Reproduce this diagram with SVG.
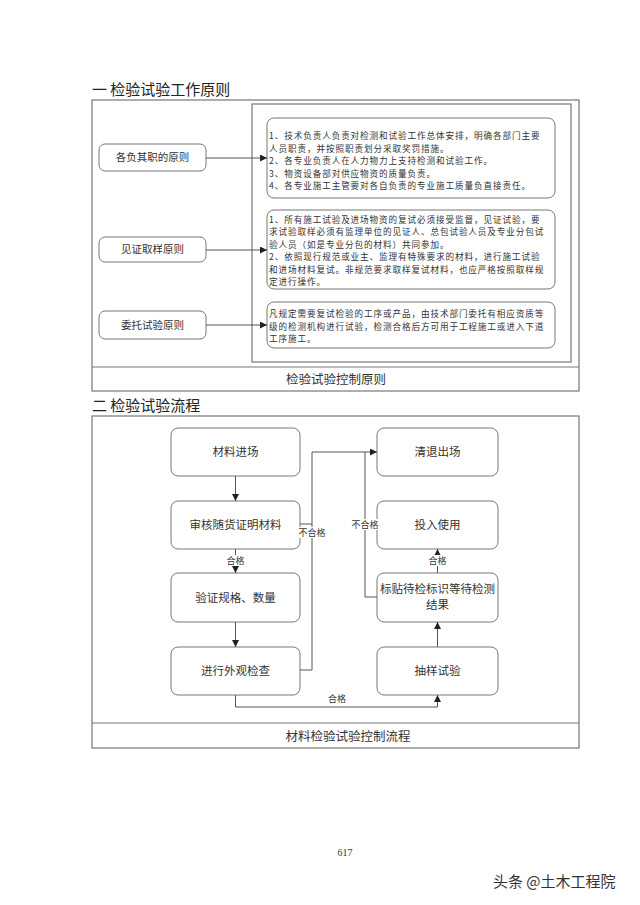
<svg xmlns="http://www.w3.org/2000/svg" width="640" height="905" viewBox="0 0 640 905">
<style>
.t{font-family:"Noto Sans CJK SC","Noto Sans",sans-serif;fill:#333}
.h{font-size:15px;fill:#222}
.s{font-size:8.6px;letter-spacing:0.9px}
.n{font-size:10.5px;text-anchor:middle}
.f{font-size:11.5px;text-anchor:middle}
.l{font-size:9px;text-anchor:middle}
.frame{fill:none;stroke:#777;stroke-width:1.2}
.box{fill:#fff;stroke:#777;stroke-width:1}
.c{fill:none;stroke:#555;stroke-width:1}
</style>
<defs>
<marker id="a" viewBox="0 0 10 10" refX="10" refY="5" markerWidth="7" markerHeight="7" markerUnits="userSpaceOnUse" orient="auto"><path d="M0,0L10,5L0,10z" fill="#222"/></marker>
</defs>
<rect width="640" height="905" fill="#fff"/>

<text class="t h" x="92" y="95">一 检验试验工作原则</text>
<rect class="frame" x="92" y="100" width="487" height="291"/>
<line class="frame" x1="92" y1="367" x2="579" y2="367"/>
<rect class="frame" x="252" y="104" width="319" height="258"/>
<text class="t f" x="336" y="384" style="font-size:12.5px">检验试验控制原则</text>

<g id="p1"><rect class="box" x="99" y="144" width="107" height="27" rx="6"/><text class="t n" x="152.5" y="161">各负其职的原则</text></g>
<g id="p2"><rect class="box" x="99" y="237" width="107" height="25" rx="6"/><text class="t n" x="152.5" y="253">见证取样原则</text></g>
<g id="p3"><rect class="box" x="99" y="311" width="107" height="28" rx="6"/><text class="t n" x="152.5" y="329">委托试验原则</text></g>

<g id="d1"><rect class="box" x="267" y="118" width="288" height="80" rx="7"/>
<text class="t s"><tspan x="269" y="139">1、技术负责人负责对检测和试验工作总体安排，明确各部门主要</tspan><tspan x="269" y="151.5">人员职责，并按照职责划分采取奖罚措施。</tspan><tspan x="269" y="164">2、各专业负责人在人力物力上支持检测和试验工作。</tspan><tspan x="269" y="176.5">3、物资设备部对供应物资的质量负责。</tspan><tspan x="269" y="189">4、各专业施工主管要对各自负责的专业施工质量负直接责任。</tspan></text></g>
<g id="d2"><rect class="box" x="267" y="210" width="288" height="79" rx="7"/>
<text class="t s"><tspan x="269" y="222.5">1、所有施工试验及进场物资的复试必须接受监督，见证试验，要</tspan><tspan x="269" y="235">求试验取样必须有监理单位的见证人、总包试验人员及专业分包试</tspan><tspan x="269" y="247.5">验人员（如是专业分包的材料）共同参加。</tspan><tspan x="269" y="260">2、依照现行规范或业主、监理有特殊要求的材料，进行施工试验</tspan><tspan x="269" y="272.5">和进场材料复试。非规范要求取样复试材料，也应严格按照取样规</tspan><tspan x="269" y="285">定进行操作。</tspan></text></g>
<g id="d3"><rect class="box" x="267" y="302" width="288" height="46" rx="7"/>
<text class="t s"><tspan x="269" y="317">凡规定需要复试检验的工序或产品，由技术部门委托有相应资质等</tspan><tspan x="269" y="329.5">级的检测机构进行试验，检测合格后方可用于工程施工或进入下道</tspan><tspan x="269" y="342">工序施工。</tspan></text></g>

<g id="c1">
<line class="c" x1="206" y1="158" x2="267" y2="158" marker-end="url(#a)"/>
<line class="c" x1="206" y1="250" x2="267" y2="250" marker-end="url(#a)"/>
<line class="c" x1="206" y1="325" x2="267" y2="325" marker-end="url(#a)"/>
</g>

<text class="t h" x="92" y="411">二 检验试验流程</text>
<rect class="frame" x="92" y="416" width="487" height="332"/>
<line class="frame" x1="92" y1="723" x2="579" y2="723"/>
<text class="t f" x="348" y="741" style="font-size:12.5px">材料检验试验控制流程</text>

<g id="f1"><rect class="box" x="171" y="428" width="129" height="48" rx="7"/><text class="t f" x="235.5" y="456">材料进场</text></g>
<g id="f2"><rect class="box" x="171" y="501" width="129" height="48" rx="7"/><text class="t f" x="235.5" y="529">审核随货证明材料</text></g>
<g id="f3"><rect class="box" x="171" y="573" width="129" height="49" rx="7"/><text class="t f" x="235.5" y="602">验证规格、数量</text></g>
<g id="f4"><rect class="box" x="171" y="647" width="129" height="48" rx="7"/><text class="t f" x="235.5" y="675">进行外观检查</text></g>
<g id="f5"><rect class="box" x="377" y="428" width="121" height="48" rx="7"/><text class="t f" x="437.5" y="456">清退出场</text></g>
<g id="f6"><rect class="box" x="377" y="501" width="121" height="48" rx="7"/><text class="t f" x="437.5" y="529">投入使用</text></g>
<g id="f7"><rect class="box" x="377" y="573" width="121" height="49" rx="7"/><text class="t f"><tspan x="437.5" y="593">标贴待检标识等待检测</tspan><tspan x="437.5" y="609">结果</tspan></text></g>
<g id="f8"><rect class="box" x="377" y="647" width="121" height="48" rx="7"/><text class="t f" x="437.5" y="675">抽样试验</text></g>

<g id="c2">
<line class="c" x1="235.5" y1="476" x2="235.5" y2="501" marker-end="url(#a)"/>
<line class="c" x1="235.5" y1="549" x2="235.5" y2="573" marker-end="url(#a)"/>
<line class="c" x1="235.5" y1="622" x2="235.5" y2="647" marker-end="url(#a)"/>
<polyline class="c" points="300,524 312,524 312,452 377,452" marker-end="url(#a)"/>
<polyline class="c" points="300,670 312,670 312,524"/>
<polyline class="c" points="377,597 365,597 365,452"/>
<line class="c" x1="437.5" y1="647" x2="437.5" y2="622" marker-end="url(#a)"/>
<line class="c" x1="437.5" y1="573" x2="437.5" y2="549" marker-end="url(#a)"/>
<polyline class="c" points="235.5,695 235.5,707 437.5,707 437.5,695" marker-end="url(#a)"/>
<rect x="222" y="555" width="27" height="11" fill="#fff"/>
<text class="t l" x="235.5" y="564">合格</text>
<rect x="424" y="555" width="27" height="11" fill="#fff"/>
<text class="t l" x="437.5" y="564">合格</text>
<rect x="299" y="527" width="26" height="11" fill="#fff"/>
<text class="t l" x="312" y="536">不合格</text>
<rect x="352" y="519" width="26" height="11" fill="#fff"/>
<text class="t l" x="365" y="528">不合格</text>
<text class="t l" x="337" y="702">合格</text>
</g>

<text x="345" y="856" style="font-family:'Liberation Serif',serif;font-size:10px;fill:#333" text-anchor="middle">617</text>
<text x="493" y="887" style="font-family:'Noto Sans CJK SC',sans-serif;font-size:15px;fill:#333">头条 @土木工程院</text>
</svg>
